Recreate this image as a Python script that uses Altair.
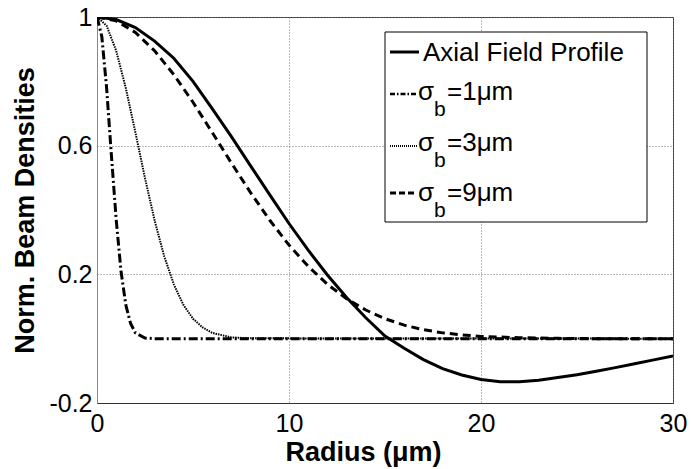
import altair as alt
import pandas as pd

# ---- data ----
r_axial = [0, 1, 2, 3, 4, 5, 6, 7, 8, 9, 10, 11, 12, 13, 14, 15, 16, 17, 18, 19,
           20, 21, 22, 23, 24, 25, 26, 27, 28, 29, 30]
axial = [1.0, 0.992, 0.967, 0.925, 0.872, 0.80, 0.715, 0.628, 0.537, 0.447, 0.358,
         0.275, 0.198, 0.128, 0.065, 0.008, -0.03, -0.065, -0.093, -0.113,
         -0.127, -0.134, -0.134, -0.129, -0.121, -0.112, -0.101, -0.09, -0.078,
         -0.066, -0.054]

r_s1 = [0, 0.25, 0.5, 0.75, 1.0, 1.25, 1.5, 1.75, 2.0, 2.5, 3.0, 30]
s1 = [1.0, 0.94, 0.78, 0.57, 0.37, 0.21, 0.105, 0.047, 0.018, 0.002, 0.0, 0.0]

r_s3 = [0, 0.5, 1, 1.5, 2, 2.5, 3, 3.5, 4, 4.5, 5, 5.5, 6, 7, 8, 30]
s3 = [1.0, 0.973, 0.895, 0.779, 0.641, 0.499, 0.368, 0.256, 0.169, 0.105, 0.062,
      0.035, 0.018, 0.004, 0.001, 0.0]

r_s9 = [0, 1, 2, 3, 4, 5, 6, 7, 8, 9, 10, 11, 12, 13, 14, 15, 16, 17, 18, 19, 20,
        22, 24, 26, 30]
s9 = [1.0, 0.988, 0.952, 0.895, 0.821, 0.735, 0.641, 0.546, 0.454, 0.368, 0.291,
      0.225, 0.169, 0.124, 0.089, 0.062, 0.042, 0.028, 0.018, 0.012, 0.007, 0.003,
      0.001, 0.0, 0.0]

x_ticks = [0, 10, 20, 30]
y_ticks = [-0.2, 0.2, 0.6, 1.0]

FONT = "Liberation Sans"

xs = alt.Scale(domain=[0, 30], nice=False, zero=False)
ys = alt.Scale(domain=[-0.2, 1.0], nice=False, zero=False)

x_axis = alt.Axis(values=x_ticks, title="Radius (μm)", grid=True, gridColor="#777",
                  gridDash=[1, 2], gridWidth=1, ticks=False, tickSize=0,
                  labelFont=FONT, labelFontSize=25, labelColor="black", labelPadding=8,
                  labelBaseline="top",
                  domainColor="#333", titleFont=FONT, titleFontSize=27,
                  titleFontWeight="bold", titleColor="black", titleX=266, titleY=57,
                  titleBaseline="alphabetic", labelFlush=False)
y_axis = alt.Axis(values=y_ticks, title="Norm. Beam Densities", grid=True,
                  gridColor="#777", gridDash=[1, 2], gridWidth=1, ticks=False,
                  tickSize=0, labelFont=FONT, labelFontSize=25, labelColor="black",
                  labelPadding=5, domainColor="#888", titleFont=FONT,
                  titleFontSize=27, titleFontWeight="bold", titleColor="black",
                  titleX=-64, titleBaseline="alphabetic", labelFlush=False,
                  labelExpr="datum.value == 1 ? '1' : (datum.value < 0 ? '-' : '') + format(abs(datum.value), '.1f')")


def line(r, v, dash, width):
    df = pd.DataFrame({"r": r, "v": v})
    kw = dict(color="black", strokeWidth=width, clip=True)
    if dash:
        kw["strokeDash"] = dash
    return alt.Chart(df).mark_line(**kw).encode(
        x=alt.X("r:Q", scale=xs, axis=x_axis),
        y=alt.Y("v:Q", scale=ys, axis=y_axis),
    )


l_s1 = line(r_s1, s1, [9, 3, 2, 3], 3)
l_s3 = line(r_s3, s3, [1.5, 1], 2)
l_s9 = line(r_s9, s9, [8, 5], 3)
l_ax = line(r_axial, axial, None, 3)

# ---- custom legend (box, samples, text) ----
leg_df = pd.DataFrame({"k": [0]})
box = alt.Chart(leg_df).mark_rect(fill="white", stroke="black", strokeWidth=1).encode(
    x=alt.value(288), x2=alt.value(550), y=alt.value(15), y2=alt.value(205))

samples = []
for (y0, x1, dash, w) in [(35, 322, None, 3), (77, 320, [5, 2, 1.5, 2], 2.5),
                          (129, 320, [1, 1], 2), (176, 320, [6, 3], 3)]:
    kw = dict(color="black", strokeWidth=w)
    if dash:
        kw["strokeDash"] = dash
    samples.append(alt.Chart(leg_df).mark_rule(**kw).encode(
        x=alt.value(293), x2=alt.value(x1), y=alt.value(y0)))


def txt(s, x, y, size=26):
    return alt.Chart(leg_df).mark_text(text=s, font=FONT, fontSize=size, color="black",
                                       align="left", baseline="alphabetic").encode(
        x=alt.value(x), y=alt.value(y))


texts = [txt("Axial Field Profile", 326, 44)]
for (lbl, yb) in [("=1μm", 83), ("=3μm", 134), ("=9μm", 184)]:
    texts.append(txt("σ", 321, yb))
    texts.append(txt("b", 337, yb + 16, 21))
    texts.append(txt(lbl, 350, yb))

chart = alt.layer(l_s1, l_s3, l_s9, l_ax, box, *samples, *texts).properties(
    width=576, height=386,
    padding={"left": 97, "top": 17, "right": 18, "bottom": 66},
    autosize=alt.AutoSizeParams(type="none"),
    background="white",
).configure_view(stroke="#333", strokeWidth=1)

chart.save("out.html", embed_options={"renderer": "svg", "actions": False})
